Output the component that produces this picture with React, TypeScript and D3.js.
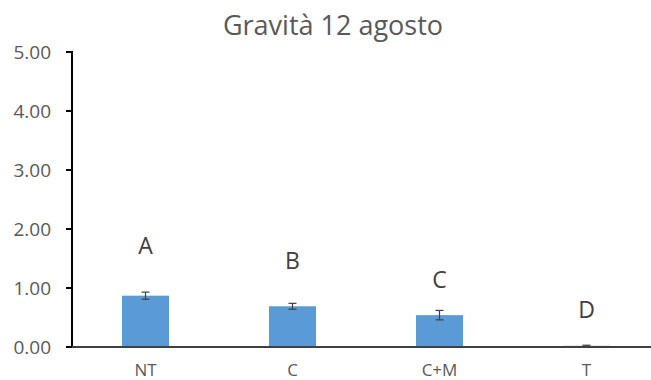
import React from 'react';
import * as d3 from 'd3';

const width = 651;
const height = 380;

const categories = ['NT', 'C', 'C+M', 'T'];
const means = [0.87, 0.69, 0.54, 0.02];
const errors = [0.06, 0.05, 0.08, 0.01];
const letters = ['A', 'B', 'C', 'D'];
const letterLevels = [1.58, 1.32, 1.0, 0.49];
const yTicks = [0, 1, 2, 3, 4, 5];

const margin = { top: 52, right: -9, bottom: 33, left: 72 };

const App: React.FC = () => {
  const x = d3
    .scaleBand<string>()
    .domain(categories)
    .range([margin.left, width - margin.right])
    .paddingInner(0.68)
    .paddingOuter(0.34);
  const y = d3
    .scaleLinear()
    .domain([0, 5])
    .range([height - margin.bottom, margin.top]);

  const font = "'Open Sans', 'Noto Sans', sans-serif";
  const grey = '#595959';

  return (
    <svg width={width} height={height} style={{ position: 'absolute', top: 0, left: 0, background: '#fff' }}>
      <text x={333} y={35} textAnchor="middle" fontFamily={font} fontSize={27} fill={grey}>
        Gravità 12 agosto
      </text>

      {categories.map((c, i) => {
        const bx = x(c)!;
        const cx = bx + x.bandwidth() / 2;
        const hi = y(means[i] + errors[i]);
        const lo = y(Math.max(0, means[i] - errors[i]));
        return (
          <g key={c}>
            <rect
              x={bx}
              y={y(means[i])}
              width={x.bandwidth()}
              height={y(0) - y(means[i])}
              fill="#5b9bd5"
            />
            <g stroke="#404040" strokeWidth={1.2}>
              <line x1={cx} x2={cx} y1={hi} y2={lo} />
              <line x1={cx - 4} x2={cx + 4} y1={hi} y2={hi} />
              <line x1={cx - 4} x2={cx + 4} y1={lo} y2={lo} />
            </g>
            <text x={cx} y={y(letterLevels[i])} textAnchor="middle" fontFamily={font} fontSize={23} fill="#404040">
              {letters[i]}
            </text>
            <text x={cx} y={376} textAnchor="middle" fontFamily={font} fontSize={17} fill={grey}>
              {c}
            </text>
          </g>
        );
      })}

      {/* y axis */}
      <line x1={margin.left} x2={margin.left} y1={y(5) - 1} y2={y(0)} stroke="#000" strokeWidth={2} />
      {yTicks.map(t => (
        <g key={t}>
          <line x1={margin.left - 6} x2={margin.left} y1={y(t)} y2={y(t)} stroke="#000" strokeWidth={2} />
          <text
            x={margin.left - 21}
            y={y(t)}
            dy="0.36em"
            textAnchor="end"
            fontFamily={font}
            fontSize={19}
            fill={grey}
          >
            {t.toFixed(2)}
          </text>
        </g>
      ))}
      {/* x axis */}
      <line x1={margin.left} x2={width} y1={y(0)} y2={y(0)} stroke="#404040" strokeWidth={2} />
    </svg>
  );
};

export default App;
